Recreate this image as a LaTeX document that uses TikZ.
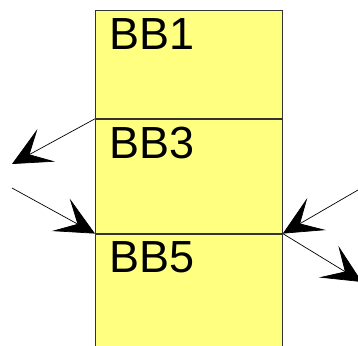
\documentclass[tikz,border=0pt]{standalone}
\usepackage{fontspec}
\setmainfont{Liberation Sans}
\usetikzlibrary{arrows.meta,positioning}
\definecolor{bbyellow}{RGB}{255,255,128}
\begin{document}
\begin{tikzpicture}[
    x=1pt, y=-1pt,
    block/.style={draw=black!80, fill=bbyellow, line width=0.8pt,
      minimum width=187pt, minimum height=114pt, inner sep=0pt, anchor=north west},
    bbname/.style={anchor=north west, inner sep=0pt, font=\fontsize{45}{45}\selectfont},
    flow/.style={draw, line width=0.7pt, -{Stealth[length=39pt,width=37pt,inset=19pt]}},
  ]
  \useasboundingbox (0,0) rectangle (358,345);
  \clip (0,0) rectangle (358,345);
  % the basic blocks, stacked
  \node[block, minimum height=108pt] (bb1) at (95,10) {};
  \node[block, below=0pt of bb1] (bb3) {};
  \node[block, below=0pt of bb3, minimum height=130pt] (bb5) {};
  \foreach \n/\t in {bb1/BB1, bb3/BB3, bb5/BB5}
    \node[bbname] (\n-name) at ([xshift=14pt,yshift=-8pt]\n.north west) {\t};
  % edges leaving and entering
  \coordinate (out-left) at (12,164);
  \coordinate (in-left) at (12,188);
  \coordinate (in-right) at (358,190);
  \coordinate (out-right) at (362,282);
  \draw[flow] (bb3.north west) -- (out-left);
  \draw[flow] (in-left) -- (bb5.north west);
  \draw[flow] (in-right) -- (bb5.north east);
  \draw[flow] (bb5.north east) -- (out-right);
\end{tikzpicture}
\end{document}
